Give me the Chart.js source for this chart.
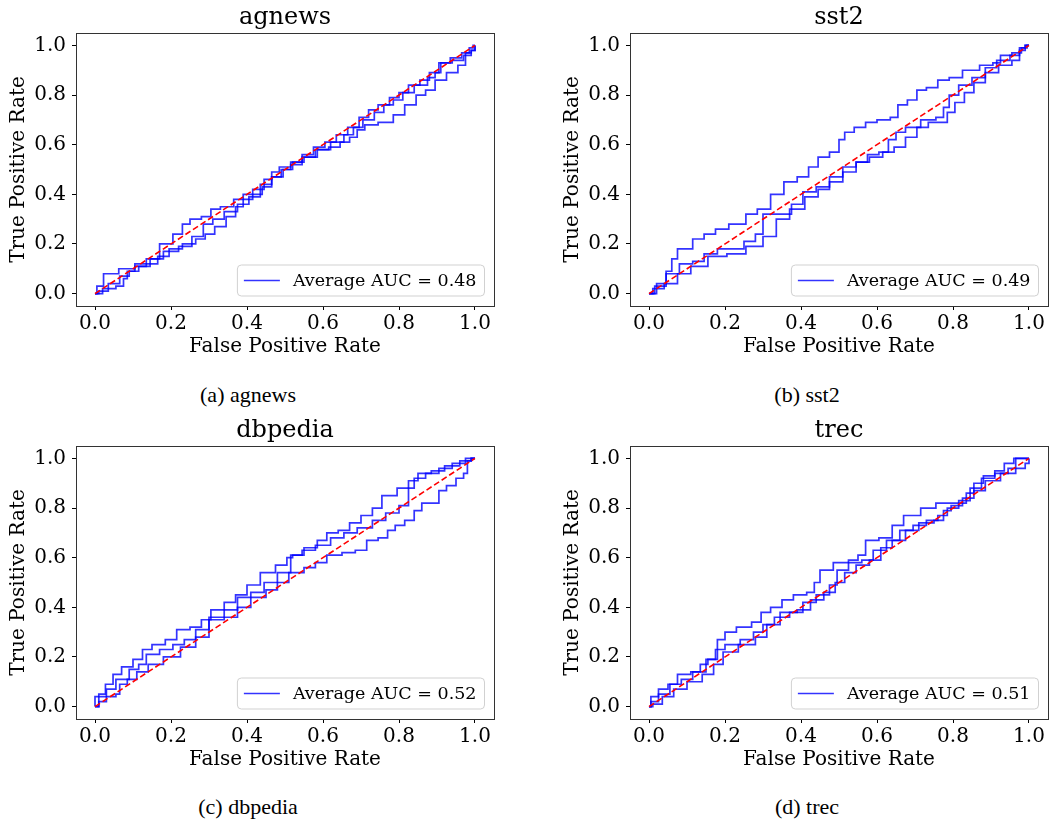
<!DOCTYPE html>
<html>
<head>
<meta charset="utf-8">
<script src="https://cdn.jsdelivr.net/npm/chart.js@4.4.0/dist/chart.umd.min.js"></script>
<style>
  html, body { margin: 0; padding: 0; background: #fff; overflow: hidden; }
  #page { position: relative; width: 1049px; height: 820px; }
  canvas { position: absolute; }
  .cap {
    position: absolute;
    font-family: "Liberation Serif", "Times New Roman", serif;
    font-size: 22px;
    color: #000;
    transform: translate(-50%, -50%);
    white-space: nowrap;
  }
</style>
</head>
<body>
<div id="page">
  <canvas id="chart0" width="530" height="370" style="left:0;top:0"></canvas>
  <canvas id="chart1" width="495" height="370" style="left:554px;top:0"></canvas>
  <canvas id="chart2" width="530" height="370" style="left:0;top:413px"></canvas>
  <canvas id="chart3" width="495" height="370" style="left:554px;top:413px"></canvas>
  <div class="cap" id="cap0" style="left:248px;top:395px"></div>
  <div class="cap" id="cap1" style="left:807px;top:395px"></div>
  <div class="cap" id="cap2" style="left:248px;top:807px"></div>
  <div class="cap" id="cap3" style="left:807px;top:807px"></div>
</div>
<script>
// dataset names, caption letters and average AUC per panel
const datasetNames = ['agnews', 'sst2', 'dbpedia', 'trec'];
const captionLetters = ['a', 'b', 'c', 'd'];
const aucValues = [0.48, 0.49, 0.52, 0.51];
const tickValues = [0, 0.2, 0.4, 0.6, 0.8, 1.0];
const chanceLine = [[0, 0], [1, 1]];

// ROC curves, [fpr, tpr] pairs, three runs per dataset
const agnewsRoc1 = [[0,0],[0.01,0.03],[0.035,0.08],[0.09,0.10],[0.12,0.12],[0.15,0.14],[0.19,0.20],[0.22,0.24],[0.24,0.28],[0.26,0.30],[0.30,0.31],[0.31,0.34],[0.35,0.35],[0.38,0.38],[0.40,0.40],[0.43,0.42],[0.46,0.46],[0.47,0.49],[0.50,0.51],[0.53,0.53],[0.56,0.56],[0.59,0.59],[0.62,0.61],[0.65,0.64],[0.68,0.67],[0.71,0.71],[0.73,0.74],[0.76,0.76],[0.79,0.79],[0.81,0.81],[0.84,0.84],[0.87,0.86],[0.89,0.89],[0.92,0.93],[0.95,0.95],[0.98,0.97],[0.99,0.99],[1,1]];
const agnewsRoc2 = [[0,0],[0.02,0.01],[0.05,0.04],[0.08,0.07],[0.10,0.09],[0.13,0.11],[0.16,0.14],[0.20,0.17],[0.24,0.19],[0.27,0.23],[0.30,0.28],[0.32,0.30],[0.36,0.33],[0.39,0.36],[0.42,0.39],[0.45,0.44],[0.48,0.47],[0.50,0.50],[0.53,0.52],[0.56,0.55],[0.60,0.58],[0.64,0.61],[0.67,0.64],[0.69,0.67],[0.72,0.70],[0.75,0.73],[0.77,0.76],[0.80,0.78],[0.82,0.81],[0.86,0.84],[0.89,0.87],[0.90,0.89],[0.92,0.93],[0.96,0.94],[0.98,0.96],[1,0.98],[1,1]];
const agnewsRoc3 = [[0,0],[0.04,0.02],[0.07,0.03],[0.08,0.06],[0.09,0.09],[0.12,0.11],[0.15,0.12],[0.18,0.15],[0.21,0.18],[0.25,0.20],[0.28,0.22],[0.30,0.24],[0.33,0.27],[0.36,0.31],[0.38,0.35],[0.40,0.38],[0.43,0.40],[0.45,0.43],[0.48,0.47],[0.51,0.50],[0.53,0.53],[0.57,0.55],[0.60,0.58],[0.63,0.59],[0.66,0.61],[0.68,0.63],[0.70,0.66],[0.72,0.68],[0.77,0.69],[0.80,0.72],[0.83,0.76],[0.86,0.80],[0.88,0.82],[0.91,0.86],[0.94,0.89],[0.97,0.92],[0.98,0.97],[1,0.98],[1,1]];

const sst2Roc1 = [[0,0],[0.04,0.04],[0.05,0.09],[0.07,0.14],[0.08,0.18],[0.11,0.18],[0.12,0.22],[0.17,0.24],[0.18,0.26],[0.24,0.28],[0.27,0.32],[0.30,0.34],[0.34,0.40],[0.37,0.45],[0.41,0.47],[0.43,0.51],[0.46,0.55],[0.49,0.57],[0.51,0.62],[0.52,0.65],[0.56,0.67],[0.58,0.69],[0.62,0.70],[0.65,0.71],[0.66,0.76],[0.70,0.78],[0.71,0.82],[0.75,0.83],[0.77,0.86],[0.81,0.87],[0.84,0.90],[0.90,0.92],[0.91,0.93],[0.94,0.96],[0.97,0.97],[0.99,0.99],[1,1]];
const sst2Roc2 = [[0,0],[0.03,0.03],[0.06,0.08],[0.10,0.12],[0.13,0.13],[0.16,0.16],[0.20,0.18],[0.23,0.18],[0.27,0.21],[0.29,0.24],[0.31,0.32],[0.36,0.32],[0.39,0.36],[0.42,0.41],[0.46,0.43],[0.49,0.47],[0.53,0.51],[0.56,0.53],[0.59,0.56],[0.62,0.57],[0.64,0.62],[0.66,0.65],[0.69,0.67],[0.74,0.70],[0.77,0.71],[0.78,0.75],[0.80,0.80],[0.83,0.84],[0.87,0.87],[0.90,0.91],[0.93,0.94],[0.97,0.96],[0.98,0.99],[1,1]];
const sst2Roc3 = [[0,0],[0.02,0.02],[0.06,0.04],[0.09,0.08],[0.13,0.11],[0.18,0.15],[0.23,0.16],[0.28,0.19],[0.32,0.23],[0.35,0.30],[0.39,0.34],[0.43,0.39],[0.46,0.42],[0.49,0.45],[0.53,0.49],[0.56,0.53],[0.60,0.55],[0.63,0.57],[0.66,0.59],[0.69,0.63],[0.72,0.67],[0.75,0.69],[0.78,0.69],[0.79,0.73],[0.82,0.77],[0.84,0.81],[0.87,0.85],[0.90,0.89],[0.94,0.92],[0.97,0.94],[0.98,0.98],[1,1]];

const dbpediaRoc1 = [[0,0],[0,0.04],[0.02,0.05],[0.035,0.09],[0.06,0.13],[0.08,0.16],[0.12,0.19],[0.13,0.23],[0.17,0.25],[0.20,0.27],[0.23,0.31],[0.27,0.32],[0.29,0.35],[0.32,0.39],[0.36,0.42],[0.38,0.45],[0.42,0.49],[0.45,0.54],[0.50,0.57],[0.51,0.60],[0.53,0.61],[0.57,0.64],[0.60,0.67],[0.62,0.70],[0.66,0.71],[0.68,0.74],[0.72,0.77],[0.74,0.80],[0.77,0.85],[0.82,0.88],[0.83,0.91],[0.87,0.94],[0.90,0.95],[0.94,0.97],[0.98,0.99],[1,1]];
const dbpediaRoc2 = [[0,0],[0.02,0.02],[0.04,0.07],[0.07,0.11],[0.11,0.15],[0.12,0.17],[0.15,0.21],[0.19,0.23],[0.22,0.25],[0.25,0.27],[0.28,0.31],[0.32,0.36],[0.36,0.39],[0.39,0.44],[0.43,0.46],[0.46,0.50],[0.50,0.54],[0.53,0.61],[0.56,0.63],[0.60,0.65],[0.64,0.68],[0.67,0.70],[0.71,0.72],[0.75,0.75],[0.78,0.78],[0.82,0.81],[0.83,0.88],[0.85,0.92],[0.89,0.94],[0.92,0.96],[0.96,0.98],[0.99,1.0],[1,1]];
const dbpediaRoc3 = [[0,0],[0.02,0.04],[0.05,0.04],[0.06,0.05],[0.07,0.09],[0.10,0.11],[0.12,0.14],[0.16,0.17],[0.20,0.20],[0.25,0.24],[0.28,0.28],[0.32,0.35],[0.36,0.36],[0.39,0.40],[0.43,0.44],[0.47,0.47],[0.49,0.50],[0.53,0.54],[0.57,0.56],[0.59,0.58],[0.63,0.61],[0.67,0.62],[0.70,0.63],[0.73,0.67],[0.76,0.68],[0.78,0.71],[0.80,0.73],[0.83,0.75],[0.85,0.79],[0.87,0.82],[0.90,0.82],[0.91,0.87],[0.94,0.89],[0.96,0.92],[0.98,0.94],[0.98,0.99],[1,1]];

const trecRoc1 = [[0,0],[0.01,0.04],[0.04,0.07],[0.06,0.09],[0.09,0.13],[0.13,0.14],[0.14,0.17],[0.17,0.19],[0.19,0.27],[0.21,0.30],[0.25,0.32],[0.29,0.34],[0.30,0.38],[0.34,0.40],[0.36,0.43],[0.40,0.45],[0.43,0.46],[0.44,0.50],[0.46,0.55],[0.51,0.58],[0.54,0.59],[0.56,0.61],[0.58,0.67],[0.63,0.68],[0.65,0.73],[0.69,0.77],[0.74,0.80],[0.77,0.82],[0.82,0.82],[0.85,0.86],[0.86,0.90],[0.90,0.93],[0.92,0.95],[0.95,0.98],[0.97,1.0],[1,1]];
const trecRoc2 = [[0,0],[0.01,0.02],[0.04,0.05],[0.07,0.09],[0.10,0.11],[0.13,0.14],[0.17,0.19],[0.18,0.23],[0.22,0.25],[0.26,0.27],[0.29,0.30],[0.31,0.33],[0.35,0.36],[0.39,0.38],[0.42,0.42],[0.46,0.45],[0.49,0.49],[0.50,0.55],[0.55,0.58],[0.57,0.59],[0.61,0.63],[0.64,0.67],[0.68,0.71],[0.71,0.73],[0.75,0.75],[0.77,0.77],[0.80,0.80],[0.83,0.83],[0.86,0.88],[0.89,0.92],[0.93,0.94],[0.96,0.96],[0.97,1.0],[1,1]];
const trecRoc3 = [[0,0],[0.02,0.01],[0.05,0.04],[0.08,0.07],[0.12,0.10],[0.16,0.13],[0.18,0.17],[0.21,0.22],[0.26,0.25],[0.30,0.28],[0.32,0.33],[0.37,0.38],[0.41,0.39],[0.44,0.43],[0.48,0.46],[0.50,0.50],[0.53,0.54],[0.56,0.57],[0.60,0.59],[0.62,0.64],[0.66,0.67],[0.69,0.71],[0.73,0.74],[0.77,0.75],[0.78,0.79],[0.81,0.81],[0.84,0.84],[0.87,0.87],[0.90,0.91],[0.95,0.94],[0.98,0.96],[1,0.98],[1,1]];

const rocRuns = [
  [agnewsRoc1, agnewsRoc2, agnewsRoc3],
  [sst2Roc1, sst2Roc2, sst2Roc3],
  [dbpediaRoc1, dbpediaRoc2, dbpediaRoc3],
  [trecRoc1, trecRoc2, trecRoc3]
];

const SERIF = '"DejaVu Serif", serif';
Chart.defaults.font.family = SERIF;
Chart.defaults.color = '#000';

// box around the plot area, drawn on top of the curves like matplotlib spines
const framePlugin = {
  id: 'frame',
  afterDatasetsDraw(chart) {
    const { ctx, chartArea: a } = chart;
    ctx.save();
    ctx.strokeStyle = '#333';
    ctx.lineWidth = 1;
    ctx.strokeRect(Math.round(a.left) + 0.5, Math.round(a.top) + 0.5,
      Math.round(a.right - a.left), Math.round(a.bottom - a.top));
    ctx.restore();
  }
};

// matplotlib style legend box in the lower right corner
const cornerLegend = {
  id: 'cornerLegend',
  afterDraw(chart) {
    const { ctx, chartArea: a } = chart;
    const ds = chart.data.datasets[0];
    ctx.save();
    ctx.font = '17.5px ' + SERIF;
    const tw = ctx.measureText(ds.label).width;
    const h = 31;
    const w = 6.5 + 36 + 13 + tw + 8;
    const right = a.right - 9.5;
    const bottom = a.bottom - 10;
    const left = right - w;
    const top = bottom - h;
    ctx.beginPath();
    ctx.roundRect(left, top, w, h, 4);
    ctx.fillStyle = 'rgba(255,255,255,0.8)';
    ctx.fill();
    ctx.strokeStyle = 'rgba(204,204,204,0.9)';
    ctx.lineWidth = 1;
    ctx.stroke();
    ctx.beginPath();
    ctx.moveTo(left + 6.5, top + h / 2);
    ctx.lineTo(left + 42.5, top + h / 2);
    ctx.strokeStyle = ds.borderColor;
    ctx.lineWidth = ds.borderWidth;
    ctx.stroke();
    ctx.fillStyle = '#000';
    ctx.textBaseline = 'middle';
    ctx.fillText(ds.label, left + 55.5, top + h / 2 + 1);
    ctx.restore();
  }
};

function makeChart(idx) {
  const canvas = document.getElementById('chart' + idx);
  const runs = rocRuns[idx];
  const datasets = runs.map((run, r) => ({
    label: r === 0 ? 'Average AUC = ' + aucValues[idx].toFixed(2) : 'run ' + (r + 1),
    data: run.map(p => ({ x: p[0], y: p[1] })),
    showLine: true,
    stepped: 'middle',
    borderColor: 'rgba(0,0,255,0.8)',
    borderWidth: 1.7,
    pointRadius: 0,
    fill: false
  }));
  datasets.push({
    label: 'chance',
    data: chanceLine.map(p => ({ x: p[0], y: p[1] })),
    showLine: true,
    borderColor: 'red',
    borderWidth: 1.6,
    borderDash: [6, 3],
    pointRadius: 0,
    fill: false,
    order: -1
  });

  const rightPad = canvas.width === 530 ? 36 : 1;

  return new Chart(canvas.getContext('2d'), {
    type: 'scatter',
    data: { datasets },
    options: {
      responsive: false,
      animation: false,
      devicePixelRatio: 1,
      layout: { padding: { left: 0, right: rightPad, top: 0, bottom: 0 } },
      plugins: {
        legend: { display: false },
        tooltip: { enabled: false },
        title: {
          display: true,
          text: datasetNames[idx],
          fullSize: false,
          color: '#000',
          font: { size: 24, weight: 'normal', lineHeight: 1.2 },
          padding: { top: 3, bottom: 1.2 }
        }
      },
      scales: {
        x: {
          type: 'linear',
          min: -0.05,
          max: 1.05,
          afterBuildTicks: s => { s.ticks = tickValues.map(v => ({ value: v })); },
          afterFit: s => { s.height = 64; },
          ticks: {
            callback: v => v.toFixed(1),
            font: { size: 20 },
            color: '#000',
            padding: 2,
            maxRotation: 0,
            autoSkip: false
          },
          grid: { drawOnChartArea: false, drawTicks: true, tickLength: 4, color: '#000' },
          border: { display: false },
          title: {
            display: true,
            text: 'False Positive Rate',
            color: '#000',
            font: { size: 20, lineHeight: 1.2 },
            padding: { top: 0, bottom: 11 }
          }
        },
        y: {
          type: 'linear',
          min: -0.05,
          max: 1.05,
          afterBuildTicks: s => { s.ticks = tickValues.map(v => ({ value: v })); },
          afterFit: s => { s.width = 76; },
          ticks: {
            callback: v => v.toFixed(1),
            font: { size: 20 },
            color: '#000',
            padding: 6,
            autoSkip: false
          },
          grid: { drawOnChartArea: false, drawTicks: true, tickLength: 4, color: '#000' },
          border: { display: false },
          title: {
            display: true,
            text: 'True Positive Rate',
            color: '#000',
            font: { size: 20, lineHeight: 1.2 },
            padding: { top: 7, bottom: 0 }
          }
        }
      }
    },
    plugins: [framePlugin, cornerLegend]
  });
}

datasetNames.forEach((name, i) => {
  document.getElementById('cap' + i).textContent = '(' + captionLetters[i] + ') ' + name;
  makeChart(i);
});
</script>
</body>
</html>
